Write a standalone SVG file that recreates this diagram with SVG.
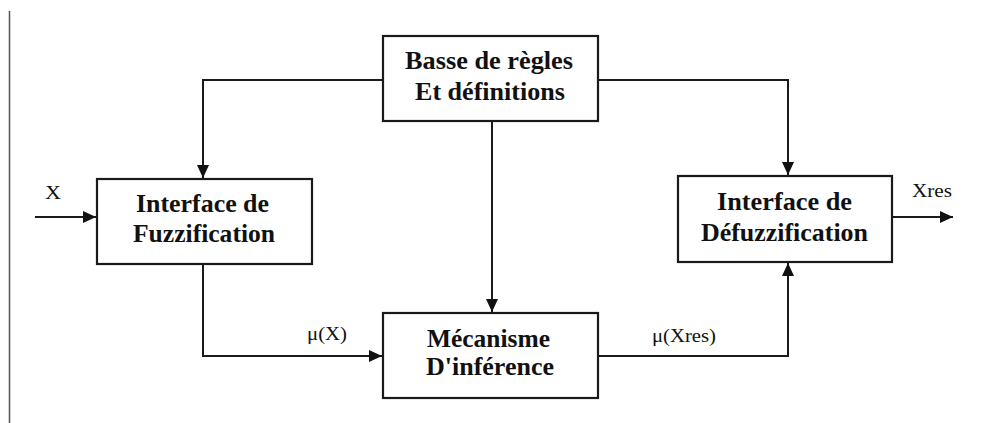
<svg xmlns="http://www.w3.org/2000/svg" width="985" height="423" viewBox="0 0 985 423">
  <style>
    .box { fill: #fff; stroke: #1a1a1a; stroke-width: 2.2; }
    .title { font-family: "Liberation Serif", "Times New Roman", serif; font-weight: bold; font-size: 25.5px; fill: #111; text-anchor: middle; }
    .lbl { font-family: "Liberation Serif", "Times New Roman", serif; font-size: 18px; fill: #111; }
    .wire { fill: none; stroke: #1a1a1a; stroke-width: 2; }
  </style>
  <defs>
    <marker id="arrow" markerUnits="userSpaceOnUse" markerWidth="14" markerHeight="12" refX="13" refY="6" orient="auto">
      <path d="M0,0 L13,6 L0,12 z" fill="#111"/>
    </marker>
  </defs>

  <rect width="985" height="423" fill="#fff"/>
  <!-- margin rule on the left -->
  <line x1="9.5" y1="11" x2="9.5" y2="423" stroke="#555" stroke-width="1.5"/>

  <g id="connectors">
    <polyline class="wire" points="383,80 203,80 203,178" marker-end="url(#arrow)"/>
    <polyline class="wire" points="598,80 788,80 788,175" marker-end="url(#arrow)"/>
    <line class="wire" x1="492" y1="121" x2="492" y2="312" marker-end="url(#arrow)"/>
    <line class="wire" x1="35" y1="217" x2="96" y2="217" marker-end="url(#arrow)"/>
    <polyline class="wire" points="203,264 203,356 382,356" marker-end="url(#arrow)"/>
    <polyline class="wire" points="598,356 788,356 788,263" marker-end="url(#arrow)"/>
    <line class="wire" x1="892" y1="217" x2="953" y2="217" marker-end="url(#arrow)"/>
    <text class="lbl" x="45" y="199" textLength="16" lengthAdjust="spacingAndGlyphs">X</text>
    <text class="lbl" x="307" y="340" textLength="40" lengthAdjust="spacingAndGlyphs">μ(X)</text>
    <text class="lbl" x="652" y="342" textLength="64" lengthAdjust="spacingAndGlyphs">μ(Xres)</text>
    <text class="lbl" x="912" y="197" textLength="40" lengthAdjust="spacingAndGlyphs">Xres</text>
  </g>

  <g id="rules">
    <rect class="box" x="383" y="36" width="215" height="85"/>
    <text class="title" x="489" y="69" textLength="168" lengthAdjust="spacingAndGlyphs">Basse de règles</text>
    <text class="title" x="490" y="100" textLength="150" lengthAdjust="spacingAndGlyphs">Et définitions</text>
  </g>

  <g id="fuzzification">
    <rect class="box" x="97" y="179" width="215" height="85"/>
    <text class="title" x="202.5" y="212" textLength="133" lengthAdjust="spacingAndGlyphs">Interface de</text>
    <text class="title" x="204" y="242" textLength="142" lengthAdjust="spacingAndGlyphs">Fuzzification</text>
  </g>

  <g id="inference">
    <rect class="box" x="383" y="313" width="215" height="85"/>
    <text class="title" x="488.5" y="347" textLength="123" lengthAdjust="spacingAndGlyphs">Mécanisme</text>
    <text class="title" x="490" y="375" textLength="128" lengthAdjust="spacingAndGlyphs">D'inférence</text>
  </g>

  <g id="defuzzification">
    <rect class="box" x="678" y="176" width="214" height="86"/>
    <text class="title" x="784.5" y="210" textLength="135" lengthAdjust="spacingAndGlyphs">Interface de</text>
    <text class="title" x="784.5" y="241" textLength="167" lengthAdjust="spacingAndGlyphs">Défuzzification</text>
  </g>
</svg>
